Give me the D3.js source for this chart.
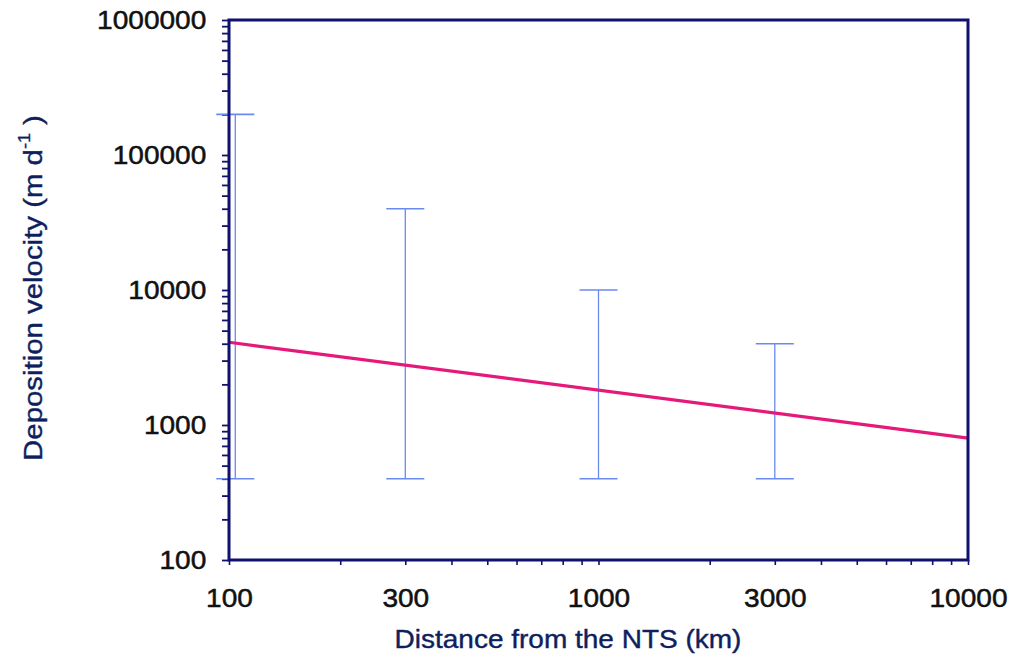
<!DOCTYPE html>
<html>
<head>
<meta charset="utf-8">
<script src="https://cdn.jsdelivr.net/npm/d3@7"></script>
<style>
  html, body { margin: 0; padding: 0; background: #fff; }
  svg { display: block; }
  text { font-family: "Liberation Sans", Arial, Helvetica, sans-serif; }
</style>
</head>
<body>
<svg id="chart" width="1012" height="660"></svg>
<script>
// ---- data ----
const xTickLabels = [100, 300, 1000, 3000, 10000];
const yTickLabels = [100, 1000, 10000, 100000, 1000000];
const barDistance = [104, 300, 1000, 3000];
const barLow = [400, 400, 400, 400];
const barHigh = [200000, 40000, 10000, 4000];
const lineDistance = [100, 10000];
const lineVelocity = [4100, 800];
const xTitle = "Distance from the NTS (km)";

// ---- layout ----
const plotL = 229, plotR = 968, plotT = 20, plotB = 560;
const axisColor = "#10106e";
const svg = d3.select("#chart");

const x = d3.scaleLog().domain([100, 10000]).range([plotL, plotR]);
const y = d3.scaleLog().domain([100, 1000000]).range([plotB, plotT]);

function minors(lo, hi) {
  const out = [];
  for (let d = lo; d < hi; d *= 10) {
    for (let k = 1; k <= 9; k++) out.push(d * k);
  }
  out.push(hi);
  return out;
}

// x ticks (outward)
const gxT = svg.append("g").attr("transform", `translate(0,${plotB})`)
  .call(d3.axisBottom(x).tickValues(minors(100, 10000)).tickFormat("").tickSize(5).tickSizeOuter(0));
gxT.select(".domain").remove();
gxT.selectAll("line").attr("stroke", axisColor).attr("stroke-width", 1.6);

// y ticks (outward)
const gyT = svg.append("g").attr("transform", `translate(${plotL},0)`)
  .call(d3.axisLeft(y).tickValues(minors(100, 1000000)).tickFormat("").tickSize(7).tickSizeOuter(0));
gyT.select(".domain").remove();
gyT.selectAll("line").attr("stroke", axisColor).attr("stroke-width", 1.8);

// x labels
const gxL = svg.append("g").attr("transform", `translate(0,${plotB})`)
  .call(d3.axisBottom(x).tickValues(xTickLabels).tickFormat(d3.format("d")).tickSize(0).tickPadding(0));
gxL.select(".domain").remove();
gxL.selectAll("text")
  .attr("y", 47).attr("dy", 0)
  .attr("transform", "scale(1.08,1)")
  .attr("fill", "#111").attr("stroke", "#111").attr("stroke-width", 0.5)
  .attr("font-size", 26)
  .style("font-family", '"Liberation Sans", Arial, sans-serif');

// y labels
const gyL = svg.append("g").attr("transform", `translate(${plotL},0)`)
  .call(d3.axisLeft(y).tickValues(yTickLabels).tickFormat(d3.format("d")).tickSize(0).tickPadding(0));
gyL.select(".domain").remove();
gyL.selectAll("text")
  .attr("x", -21).attr("dy", "0.34em")
  .attr("transform", "scale(1.08,1)")
  .attr("fill", "#111").attr("stroke", "#111").attr("stroke-width", 0.5)
  .attr("font-size", 26)
  .style("font-family", '"Liberation Sans", Arial, sans-serif');

// error bars
const barColor = "#6a8af0";
const capHalf = 19;
const bars = svg.append("g");
barDistance.forEach((d, i) => {
  const cx = x(d);
  bars.append("line").attr("x1", cx).attr("x2", cx).attr("y1", y(barLow[i])).attr("y2", y(barHigh[i]))
    .attr("stroke", barColor).attr("stroke-width", 1.3);
  [barLow[i], barHigh[i]].forEach(v => {
    bars.append("line").attr("x1", cx - capHalf).attr("x2", cx + capHalf).attr("y1", y(v)).attr("y2", y(v))
      .attr("stroke", barColor).attr("stroke-width", 1.6);
  });
});

// fitted line
const pts = lineDistance.map((d, i) => [d, lineVelocity[i]]);
svg.append("path")
  .attr("d", d3.line().x(p => x(p[0])).y(p => y(p[1]))(pts))
  .attr("fill", "none").attr("stroke", "#e5197a").attr("stroke-width", 3.2);

// frame
svg.append("rect").attr("x", plotL).attr("y", plotT).attr("width", plotR - plotL).attr("height", plotB - plotT)
  .attr("fill", "none").attr("stroke", axisColor).attr("stroke-width", 3);

// axis titles
const titleColor = "#0f1f5e";
svg.append("text")
  .attr("transform", `translate(568,648) scale(1.12,1)`)
  .attr("text-anchor", "middle")
  .attr("fill", titleColor).attr("stroke", titleColor).attr("stroke-width", 0.4)
  .attr("font-size", 25)
  .text(xTitle);

const yt = svg.append("text")
  .attr("transform", `translate(42,288) rotate(-90) scale(1.13,1)`)
  .attr("text-anchor", "middle")
  .attr("fill", titleColor).attr("stroke", titleColor).attr("stroke-width", 0.4)
  .attr("font-size", 26);
yt.append("tspan").text("Deposition velocity (m d");
yt.append("tspan").attr("dy", -12).attr("font-size", 16).attr("stroke-width", 0.3).text("-1");
yt.append("tspan").attr("dy", 12).text(" )");
</script>
</body>
</html>
